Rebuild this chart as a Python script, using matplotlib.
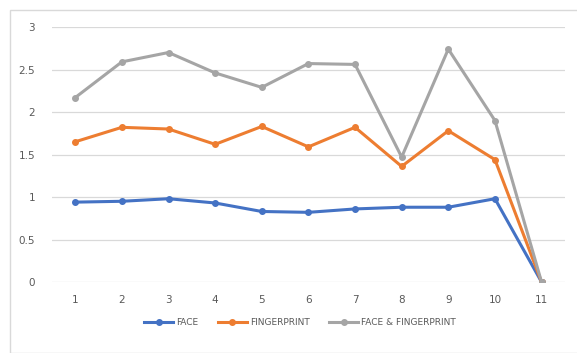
import matplotlib.pyplot as plt
from matplotlib.patches import Rectangle

# datos de las tres series
x = [1, 2, 3, 4, 5, 6, 7, 8, 9, 10, 11]
face = [0.94, 0.95, 0.98, 0.93, 0.83, 0.82, 0.86, 0.88, 0.88, 0.98, 0.0]
fingerprint = [1.65, 1.82, 1.80, 1.62, 1.83, 1.59, 1.82, 1.36, 1.78, 1.44, 0.0]
face_fp = [2.17, 2.59, 2.70, 2.46, 2.29, 2.57, 2.56, 1.47, 2.74, 1.90, 0.0]
yticks = [0, 0.5, 1, 1.5, 2, 2.5, 3]
ytick_labels = ['0', '0.5', '1', '1.5', '2', '2.5', '3']

txt = '#595959'

fig = plt.figure(figsize=(5.77, 3.53), dpi=100)
ax = fig.add_axes([0.090, 0.201, 0.889, 0.7225])

# marco del área del gráfico
fig.patches.append(Rectangle((10 / 577, 0.0), 1.0, 1 - 10 / 353, transform=fig.transFigure,
                             fill=False, edgecolor='#d9d9d9', linewidth=1))

ax.plot(x, face, color='#4472C4', lw=2.2, marker='o', ms=4, label='FACE')
ax.plot(x, fingerprint, color='#ED7D31', lw=2.2, marker='o', ms=4, label='FINGERPRINT')
ax.plot(x, face_fp, color='#A5A5A5', lw=2.2, marker='o', ms=4, label='FACE & FINGERPRINT')

ax.set_xlim(0.5, 11.5)
ax.set_ylim(0, 3)
ax.set_xticks(x)
ax.set_xticklabels([str(v) for v in x])
ax.set_yticks(yticks)
ax.set_yticklabels(ytick_labels)
ax.grid(axis='y', color='#d9d9d9', lw=0.9)
ax.set_axisbelow(True)
ax.tick_params(length=0, labelsize=7.5, labelcolor=txt, pad=9)
ax.tick_params(axis='y', pad=12)
for s in ax.spines.values():
    s.set_visible(False)

fig.legend(loc='center', bbox_to_anchor=(0.52, 0.085), ncol=3, frameon=False,
           fontsize=6.5, labelcolor=txt, handlelength=3.2, columnspacing=2.2,
           handletextpad=0.3)

fig.savefig('out.png', dpi=100)
